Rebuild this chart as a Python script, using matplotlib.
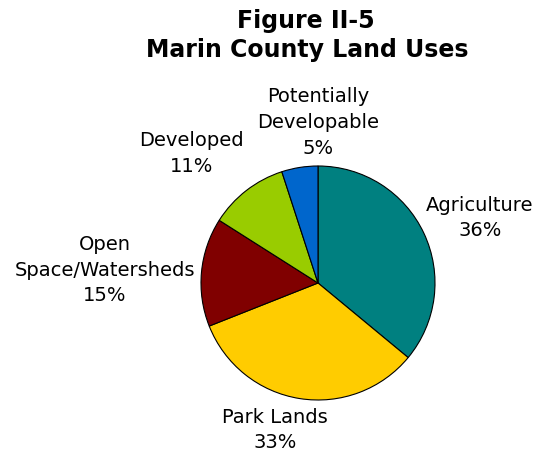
import matplotlib
matplotlib.use('Agg')
import matplotlib.pyplot as plt

# ── Data ─────────────────────────────────────────────────────────────────────
labels = ['Agriculture', 'Park Lands', 'Open\nSpace/Watersheds', 'Developed',
          'Potentially\nDevelopable']
shares = [36, 33, 15, 11, 5]
colors = ['#008080', '#FFCC00', '#800000', '#99CC00', '#0066CC']

# label anchor points (in pie-radius units)
label_xy = [(1.385, 0.556), (-0.37, -1.256), (-1.82, 0.11), (-1.08, 1.11), (0.0, 1.37)]

W, H = 537, 454
fig = plt.figure(figsize=(W / 100, H / 100), dpi=100)

cx, cy, r = 318, 283, 117
ax = fig.add_axes([(cx - r) / W, (H - cy - r) / H, 2 * r / W, 2 * r / H])
ax.pie(shares, colors=colors, startangle=90, counterclock=False,
       wedgeprops=dict(edgecolor='black', linewidth=0.8))
ax.set_xlim(-1, 1); ax.set_ylim(-1, 1)
ax.set_aspect('auto')
ax.axis('off')

for lab, val, (x, y) in zip(labels, shares, label_xy):
    ax.text(x, y, f'{lab}\n{val}%', ha='center', va='center', fontsize=14,
            family='DejaVu Sans', linespacing=1.45, clip_on=False)

fig.text(306 / W, 1 - 21 / H, 'Figure II-5', ha='center', va='center',
         fontsize=17, fontweight='bold', family='DejaVu Sans')
fig.text(307 / W, 1 - 50 / H, 'Marin County Land Uses', ha='center', va='center',
         fontsize=17, fontweight='bold', family='DejaVu Sans')

fig.savefig('out.png', dpi=100)
